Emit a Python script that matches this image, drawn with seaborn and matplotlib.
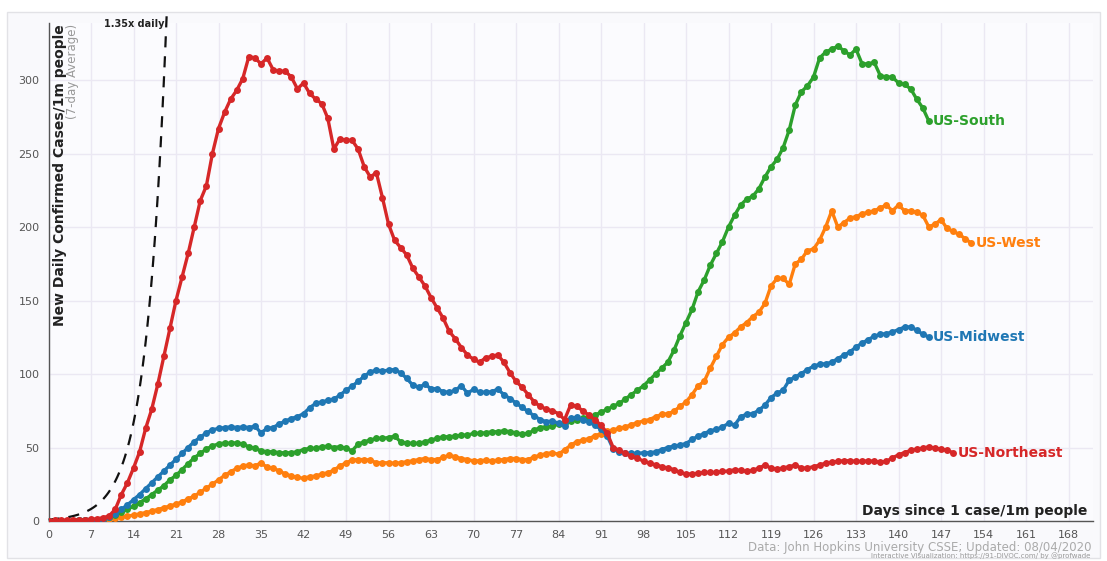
import numpy as np
import pandas as pd
import matplotlib
matplotlib.use("Agg")
import matplotlib.pyplot as plt
import seaborn as sns
from matplotlib.patches import Rectangle
from matplotlib.ticker import FixedLocator

# new daily confirmed cases per 1m people (7-day avg), index = days since 1 case/1m
northeast = [
    0.3, 0.4, 0.5, 0.6, 0.7, 0.9, 1.0, 1.2, 1.5, 2.2, 3.5, 8,
    18, 26, 36, 47, 63, 76, 93, 112, 131, 150, 166, 182, 200, 218, 228, 250, 267, 278,
    287, 293, 301, 316, 315, 311, 315, 307, 306, 306, 302, 294, 298, 291, 287, 284, 274, 253, 260, 259,
    259, 253, 241, 234, 237, 220, 202, 191, 186, 181, 172, 166, 160, 152, 145, 138, 129, 124, 118, 113,
    110, 108, 111, 112, 113, 108, 101, 95, 91, 86, 81, 78, 76, 75, 73, 69, 79, 78, 75, 72,
    69, 65, 60, 50, 48, 46, 44, 43, 40.5, 39.4, 38.2, 37, 36, 35, 33, 32, 32, 32.5, 33, 33,
    33, 33.7, 34, 34.8, 34.4, 33.7, 34.4, 36, 38, 36, 35.3, 36, 37, 38, 36, 36, 37, 38, 39.4, 40,
    40.5, 41, 41, 40.5, 40.5, 41, 40.5, 40, 40.5, 43, 45, 46.6, 48, 49, 49.5, 50.5, 49.5, 49, 48, 46.5,
]
midwest = [
    0.1, 0.1, 0.2, 0.2, 0.3, 0.4, 0.5, 0.7, 1.0, 1.5,
    3, 5, 8, 11, 14.5, 18, 22, 26, 30, 34, 38, 42, 46, 50, 54, 57, 60, 62, 63, 63.5,
    64, 63.6, 64, 63.6, 64.5, 60, 63, 63.6, 66, 68, 69.7, 71, 73, 77, 80, 81, 82, 83, 85.6, 89,
    91.7, 95, 98.5, 101.4, 102.6, 102, 102.6, 103, 100.8, 97, 92.4, 91, 93, 90, 90, 88, 87.5, 89, 92, 87,
    89.5, 87.8, 87.5, 88, 89.7, 86, 83.3, 80.3, 77.3, 74.5, 71.5, 69, 67.5, 68, 66.5, 64.5, 70, 70.5, 69, 67.5,
    65, 62.5, 58, 49, 47, 46, 46, 46, 46.4, 46.4, 47, 48.6, 50, 51, 51.6, 52.7, 55.5, 57.7, 59.5, 61.4,
    62.3, 64, 66.4, 65.2, 70.9, 72.7, 73, 75.4, 78.8, 84, 87, 89, 95.8, 98, 100.3, 103, 105.3, 106.6, 107, 108,
    110.5, 112.8, 115, 118.4, 121, 123.4, 125.7, 127, 127.5, 128.6, 130.2, 132, 132, 129.8, 127, 125.2,
]
south = [
    0.1, 0.1, 0.2, 0.2, 0.3, 0.4, 0.5, 0.7, 1.0, 1.5,
    3, 4, 6, 8, 10, 12.5, 15, 18, 21, 24, 28, 31, 35, 39, 43, 46, 49, 51, 52.5, 53,
    52.8, 53.2, 52.3, 50.5, 49.4, 47.8, 47.1, 47.1, 46.4, 46.4, 46.4, 47.1, 48.6, 49.4, 49.4, 50.5, 50.9, 50, 50.5, 49.4,
    47.8, 52.3, 53.9, 55, 56.2, 56.2, 56.8, 57.7, 53.9, 52.8, 52.8, 52.8, 53.9, 55, 56.2, 57.3, 57.3, 57.7, 58.4, 58.4,
    59.6, 59.6, 60, 60.7, 60.7, 61.4, 60.7, 60, 59.1, 59.6, 61.8, 63.6, 64.1, 64.5, 65.9, 67, 68, 69, 70, 71,
    72, 74, 76, 78, 80, 83, 86, 89, 92, 96, 100, 104, 108, 116, 126, 135, 144, 156, 164, 174,
    182, 190, 200, 208, 215, 219, 221, 226, 234, 241, 246, 254, 266, 283, 292, 296, 302, 315, 319, 321,
    323, 320, 317, 321, 311, 311, 312, 303, 302, 302, 298, 297, 294, 287, 281, 272,
]
west = [
    0, 0, 0, 0.1, 0.1, 0.2, 0.3, 0.5, 1.0, 1.3,
    1.7, 2.2, 2.7, 3.3, 4, 4.8, 5.7, 6.7, 7.8, 9, 10.2, 11.5, 13, 15, 17, 19.5, 22.5, 25, 28, 31,
    33.5, 35.8, 37.4, 38.1, 37.4, 39.6, 36.5, 35.8, 34.2, 31.9, 30.6, 29.7, 29, 30.1, 30.6, 31.9, 32.8, 34.6, 37.4, 39.6,
    41.4, 41.8, 41.8, 41.4, 39.6, 39.6, 39.6, 39.2, 39.6, 40.3, 40.9, 41.8, 42.5, 41.8, 41.8, 43.2, 44.7, 43.6, 42.5, 41.8,
    40.9, 40.9, 41.4, 40.9, 41.4, 41.8, 42.5, 42.5, 41.8, 41.8, 43.6, 44.7, 45.9, 46.4, 45.4, 48.4, 51.5, 54, 55, 56,
    58, 59.5, 61, 62, 63, 64, 65.5, 67, 68, 69, 71, 72.5, 73, 74.5, 78, 81, 86, 92, 95, 104,
    112, 120, 125, 128, 132, 135, 139, 142, 148, 160, 165, 165, 161, 175, 178, 184, 185, 191, 200, 211,
    200, 203, 206, 207, 209, 210, 211, 213, 215, 211, 215, 211, 211, 210, 208, 200, 202, 205, 199, 197, 195, 192, 189,
]

region_names = ["US-West", "US-South", "US-Midwest", "US-Northeast"]
region_values = [west, south, midwest, northeast]
region_colors = ["#ff7f0e", "#2ca02c", "#1f77b4", "#d62728"]

x_ticks = list(range(0, 169, 7))
y_ticks = [0, 50, 100, 150, 200, 250, 300]

# reference curve: cases growing 1.35x per day
growth_rate = 1.35
guide_days = np.linspace(0, 19.47, 80)

W, H = 1107, 561


def fx(px):
    return px / W


def fy(py):
    return 1 - py / H


frames = []
for name, vals in zip(region_names, region_values):
    frames.append(pd.DataFrame({"day": np.arange(len(vals)), "cases": vals, "region": name}))
df = pd.concat(frames, ignore_index=True)

sns.set_style("white")
plt.rcParams["font.family"] = ["DejaVu Sans"]

fig = plt.figure(figsize=(W / 100, H / 100), dpi=100)
fig.patch.set_facecolor("white")
panel = Rectangle((fx(7), fy(558)), fx(1093), fy(12) - fy(558),
                  transform=fig.transFigure, facecolor="#f9f9fc",
                  edgecolor="#e2e2e6", linewidth=1, zorder=-10)
fig.add_artist(panel)

ax = fig.add_axes([fx(48.5), fy(521), fx(1092.8 - 48.5), fy(22.7) - fy(521)])
ax.set_zorder(1)
ax.set_facecolor("#fbfbfe")

ax.plot(guide_days, growth_rate ** guide_days, color="#111111", linestyle=(0, (5, 4)),
        linewidth=1.6, clip_on=False, zorder=2)

sns.lineplot(data=df, x="day", y="cases", hue="region", hue_order=region_names,
             palette=dict(zip(region_names, region_colors)), marker="o", markersize=5,
             markeredgewidth=0, linewidth=2.4, legend=False, estimator=None, ax=ax, zorder=3)

for name, vals, col in zip(region_names, region_values, region_colors):
    ax.annotate(name, xy=(len(vals) - 1, vals[-1]), xytext=(3, 0), textcoords="offset points",
                ha="left", va="center", fontsize=10, fontweight="bold", color=col)

ax.set_xlim(0, 172)
ax.set_ylim(0, 339)
ax.set_xticks(x_ticks)
ax.set_yticks(y_ticks)
ax.xaxis.set_minor_locator(FixedLocator([172]))
ax.yaxis.set_minor_locator(FixedLocator([339]))
ax.tick_params(which="both", axis="both", length=4.5, width=1, color="#555555",
               labelsize=8, labelcolor="#555555", pad=2)
ax.tick_params(which="minor", labelleft=False, labelbottom=False)
ax.grid(True, which="major", color="#ebe8f3", linewidth=1)
ax.set_axisbelow(True)
for side in ["top", "right"]:
    ax.spines[side].set_visible(False)
for side in ["left", "bottom"]:
    ax.spines[side].set_color("#555555")
    ax.spines[side].set_linewidth(1)
ax.set_xlabel("")
ax.set_ylabel("")

fig.text(fx(60), fy(24), "New Daily Confirmed Cases/1m people", rotation=90, ha="center", va="top",
         fontsize=10, fontweight="bold", color="#222222", zorder=5)
fig.text(fx(73), fy(24), "(7-day Average)", rotation=90, ha="center", va="top",
         fontsize=8.5, color="#999999", zorder=5)
fig.text(fx(165), fy(24), "1.35x daily", ha="right", va="center", fontsize=7,
         fontweight="bold", color="#222222", zorder=5)
fig.text(fx(1087), fy(511), "Days since 1 case/1m people", ha="right", va="center",
         fontsize=10, fontweight="bold", color="#222222", zorder=5)
fig.text(fx(1092), fy(548), "Data: John Hopkins University CSSE; Updated: 08/04/2020",
         ha="right", va="center", fontsize=8.5, color="#aaaaaa", zorder=5)
fig.text(fx(1090), fy(556), "Interactive Visualization: https://91-DIVOC.com/ by @profwade",
         ha="right", va="center", fontsize=5, color="#999999", zorder=5)

fig.savefig("out.png", dpi=100)
